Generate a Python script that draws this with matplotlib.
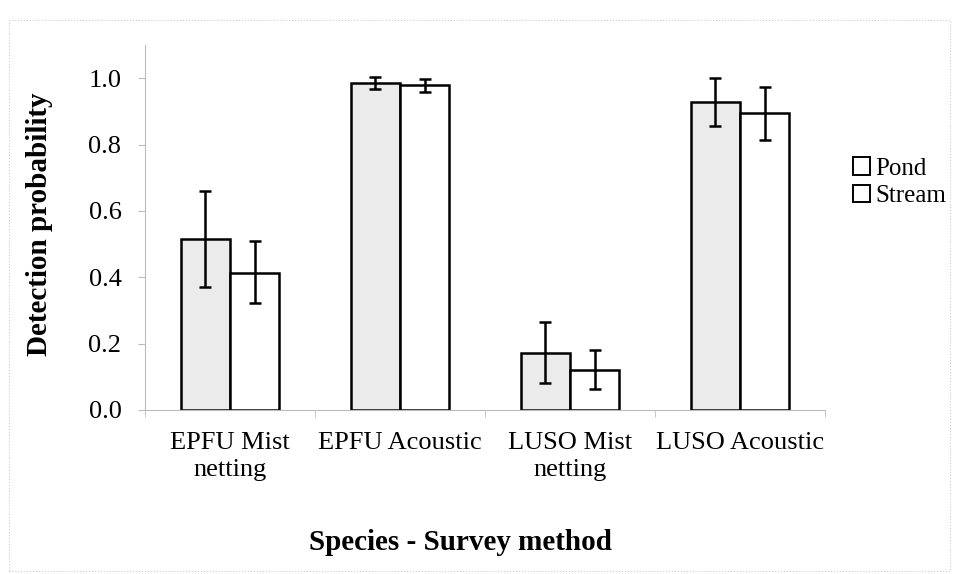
import matplotlib.pyplot as plt
import numpy as np
from matplotlib.patches import Rectangle

plt.rcParams['font.family'] = ['Liberation Serif', 'DejaVu Serif']

categories = ['EPFU Mist\nnetting', 'EPFU Acoustic', 'LUSO Mist\nnetting', 'LUSO Acoustic']
pond = [0.515, 0.985, 0.172, 0.928]
pond_lo = [0.372, 0.967, 0.081, 0.855]
pond_hi = [0.660, 1.005, 0.266, 1.000]
stream = [0.414, 0.978, 0.120, 0.896]
stream_lo = [0.321, 0.957, 0.064, 0.813]
stream_hi = [0.508, 0.999, 0.180, 0.973]

fig = plt.figure(figsize=(9.56, 5.74), dpi=100)
ax = fig.add_axes([145 / 956, 1 - 410 / 574, 680 / 956, 365 / 574])

x = np.arange(len(categories))
w = 0.29
pond_err = [np.array(pond) - np.array(pond_lo), np.array(pond_hi) - np.array(pond)]
stream_err = [np.array(stream) - np.array(stream_lo), np.array(stream_hi) - np.array(stream)]

ax.bar(x - w / 2, pond, w, color='#ebebeb', edgecolor='black', linewidth=1.8,
       yerr=pond_err, capsize=4.5, error_kw={'elinewidth': 1.8, 'capthick': 1.8}, label='Pond')
ax.bar(x + w / 2, stream, w, color='white', edgecolor='black', linewidth=1.8,
       yerr=stream_err, capsize=4.5, error_kw={'elinewidth': 1.8, 'capthick': 1.8}, label='Stream')

ax.set_xlim(-0.5, 3.5)
ax.set_ylim(0, 1.1)
ax.set_yticks(np.arange(0, 1.01, 0.2))
ax.set_yticklabels(['%.1f' % v for v in np.arange(0, 1.01, 0.2)], fontsize=19)
ax.set_xticks(x)
ax.set_xticklabels(categories, fontsize=19, linespacing=1.3)
ax.tick_params(axis='x', length=0, pad=16)
ax.set_xticks(np.arange(-0.5, 4, 1), minor=True)
ax.tick_params(axis='x', which='minor', length=5, color='#bbbbbb')
ax.tick_params(axis='y', length=5, color='#bbbbbb', pad=12)

for s in ['top', 'right']:
    ax.spines[s].set_visible(False)
for s in ['left', 'bottom']:
    ax.spines[s].set_color('#bbbbbb')
    ax.spines[s].set_linewidth(0.8)

fig.text(40 / 956, 1 - 224 / 574, 'Detection probability', fontsize=21, fontweight='bold',
         rotation=90, ha='center', va='center')
fig.text(460 / 956, 1 - 542 / 574, 'Species - Survey method', fontsize=21,
         fontweight='bold', ha='center', va='center')

h = [Rectangle((0, 0), 1, 1, facecolor='white', edgecolor='black', linewidth=1.4) for _ in range(2)]
fig.legend(h, ['Pond', 'Stream'], loc='center left', bbox_to_anchor=(0.892, 1 - 182 / 574),
           frameon=False, fontsize=18, handlelength=0.7, handleheight=0.7, handletextpad=0.2,
           labelspacing=0.2, borderpad=0, borderaxespad=0)

fig.patches.append(Rectangle((0.009, 0.005), 0.985, 0.96, transform=fig.transFigure,
                             fill=False, edgecolor='#cccccc', linewidth=0.8, linestyle=':'))

fig.savefig('out.png', dpi=100)
